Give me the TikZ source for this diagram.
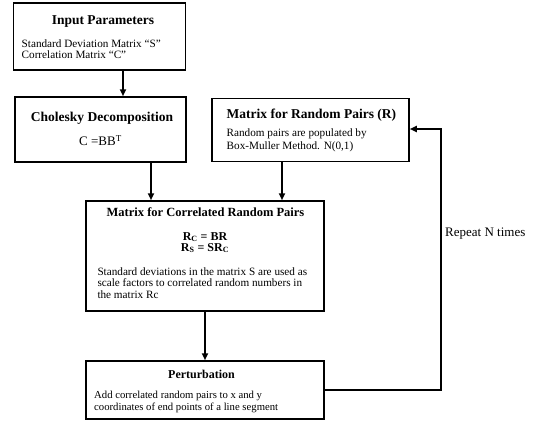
\documentclass[tikz,border=0pt]{standalone}
\usepackage{fontspec}
\setmainfont{Liberation Serif}
\usetikzlibrary{arrows.meta}
\begin{document}
\begin{tikzpicture}[x=1pt,y=-1pt,
  box/.style={draw,line width=1.5pt,inner sep=0pt,minimum width=#1},
  ttl/.style={font=\fontsize{#1}{14}\selectfont\bfseries,inner sep=0pt,anchor=base},
  ttl/.default=13.5,
  txt/.style={font=\fontsize{#1}{12}\selectfont,inner sep=0pt,anchor=base west},
  txt/.default=11.2,
  arr/.style={line width=2pt,-{Triangle[length=7pt,width=6pt]}}]
\useasboundingbox (0,0) rectangle (536,421);
\node[box=172pt,minimum height=67pt] (inp) at (99.5,36.5) {};
\node[box=171pt,minimum height=65pt] (chol) at (100.5,129.5) {};
\node[box=197pt,minimum height=63pt] (rnd) at (310.5,130) {};
\node[box=238pt,minimum height=110pt] (cor) at (205,256) {};
\node[box=238pt,minimum height=58pt] (per) at (205,390) {};
% texts
\node[ttl] (t1) at (103,24.5) {Input Parameters};
\node[txt] (b1a) at (21.5,47.5) {Standard Deviation Matrix “S”};
\node[txt] (b1b) at (21.5,58) {Correlation Matrix “C”};
\node[ttl] (t2) at (102,121.5) {Cholesky Decomposition};
\node[font=\fontsize{13}{14}\selectfont,inner sep=0pt,anchor=base] (f2) at (100.5,145.5) {C =BB\textsuperscript{\fontsize{9}{9}\selectfont T}};
\node[ttl,anchor=base west] (t3) at (226.5,118.5) {Matrix for Random Pairs (R)};
\node[txt] (b3a) at (226.5,136.7) {Random pairs are populated by};
\node[txt] (b3b) at (226.5,149.5) {Box-Muller Method. N(0,1)};
\node[ttl=12.5] (t4) at (205.5,216.5) {Matrix for Correlated Random Pairs};
\node[font=\fontsize{12}{14}\selectfont\bfseries,inner sep=0pt,anchor=base] (f4a) at (205,240) {R\textsubscript{C} = BR};
\node[font=\fontsize{12}{14}\selectfont\bfseries,inner sep=0pt,anchor=base] (f4b) at (205,251) {R\textsubscript{S} = SR\textsubscript{C}};
\node[txt] (b4a) at (97.3,275) {Standard deviations in the matrix S are used as};
\node[txt] (b4b) at (97.3,286.5) {scale factors to correlated random numbers in};
\node[txt] (b4c) at (97.3,298) {the matrix Rc};
\node[ttl=12] (t5) at (201.5,378.3) {Perturbation};
\node[txt=10.7] (b5a) at (94,398) {Add correlated random pairs to x and y};
\node[txt=10.7] (b5b) at (94,410) {coordinates of end points of a line segment};
\node[font=\fontsize{13}{14}\selectfont,inner sep=0pt,anchor=base west] (rep) at (445,236) {Repeat N times};
% arrows
\draw[arr] (inp.south -| 123,0) -- (chol.north -| 123,0);
\draw[arr] (chol.south -| 151,0) -- (cor.north -| 151,0);
\draw[arr] (rnd.south -| 282,0) -- (cor.north -| 282,0);
\draw[arr] (cor.south) -- (per.north);
\coordinate (c1) at (441,390);
\coordinate (c2) at (441,129);
\draw[arr] (per.east) -- (c1) -- (c2) -- (c2 -| rnd.east);
\end{tikzpicture}
\end{document}
